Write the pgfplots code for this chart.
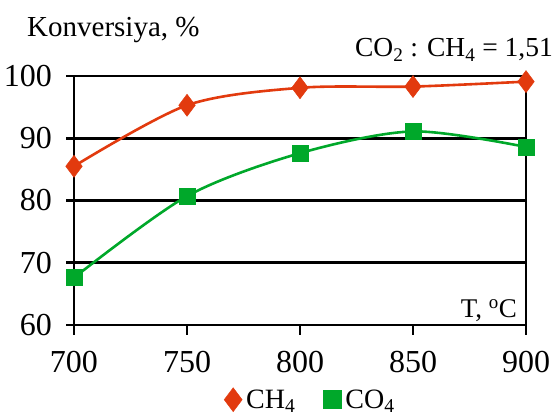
\documentclass[border=0pt]{standalone}
\usepackage{fontspec}
\setmainfont{Liberation Serif}
\usepackage{pgfplots}
\pgfplotsset{compat=1.18}
\definecolor{chred}{RGB}{226,58,14}
\definecolor{cogreen}{RGB}{0,168,42}
\begin{document}
\begin{tikzpicture}
\path[use as bounding box] (0,0) rectangle (557pt,414pt);
\begin{axis}[
  at={(74pt,89pt)}, anchor=south west,
  scale only axis, width=452pt, height=249pt,
  xmin=700, xmax=900, ymin=60, ymax=100,
  xtick={700,750,800,850,900}, ytick={60,70,80,90,100},
  xtick pos=left, ytick pos=left,
  major tick length=0pt,
  axis line style={black, line width=2.6pt},
  ymajorgrids, grid style={black, line width=2.6pt},
  /pgf/number format/assume math mode=true,
  xticklabel style={font=\fontsize{32}{36}\selectfont, anchor=north, inner sep=0pt},
  yticklabel style={font=\fontsize{32}{36}\selectfont, anchor=east, inner sep=0pt},
  xticklabel shift=26pt,
  yticklabel shift=22pt,
  legend style={draw=none, fill=none, at={(0.523,-0.30)}, anchor=center,
     font=\fontsize{28}{32}\selectfont, legend columns=2,
     inner sep=0pt,
     /tikz/every odd column/.append style={column sep=2pt},
     /tikz/every even column/.append style={column sep=26pt}},
  legend cell align=left,
  clip=false,
]
\addplot[chred, line width=2.6pt, smooth, mark=diamond*, mark size=11pt, mark options={solid, fill=chred, line width=0.5pt}, forget plot]
  coordinates {(700,85.5)(750,95.3)(800,98.1)(850,98.3)(900,99.1)};
\addplot[cogreen, line width=2.6pt, smooth, mark=square*, mark size=8pt, mark options={solid, fill=cogreen, line width=0.5pt}, forget plot]
  coordinates {(700,67.6)(750,80.7)(800,87.6)(850,91.1)(900,88.6)};
\addlegendimage{only marks, mark=diamond*, mark size=12pt, chred, fill=chred}
\addlegendentry{CH\textsubscript{4}}
\addlegendimage{only marks, mark=square*, mark size=9pt, cogreen, fill=cogreen}
\addlegendentry{CO\textsubscript{4}}
\end{axis}
\foreach \xx in {74,187,300,413,526} {
  \draw[black, line width=2.6pt] (\xx pt,89pt) -- (\xx pt,79pt);
}
\foreach \yy in {89,151.25,213.5,275.75,338} {
  \draw[black, line width=2.6pt] (74pt,\yy pt) -- (66pt,\yy pt);
}
\node[anchor=base west, inner sep=0, font=\fontsize{29}{34}\selectfont] at (27pt,377pt) {Konversiya, \%};
\node[anchor=base east, inner sep=0, font=\fontsize{27.5}{31}\selectfont] at (553pt,357pt) {CO\textsubscript{2} : CH\textsubscript{4} = 1,51};
\node[anchor=base east, inner sep=0, font=\fontsize{27}{31}\selectfont] at (517pt,96pt) {T, \textsuperscript{o}C};
\end{tikzpicture}
\end{document}
